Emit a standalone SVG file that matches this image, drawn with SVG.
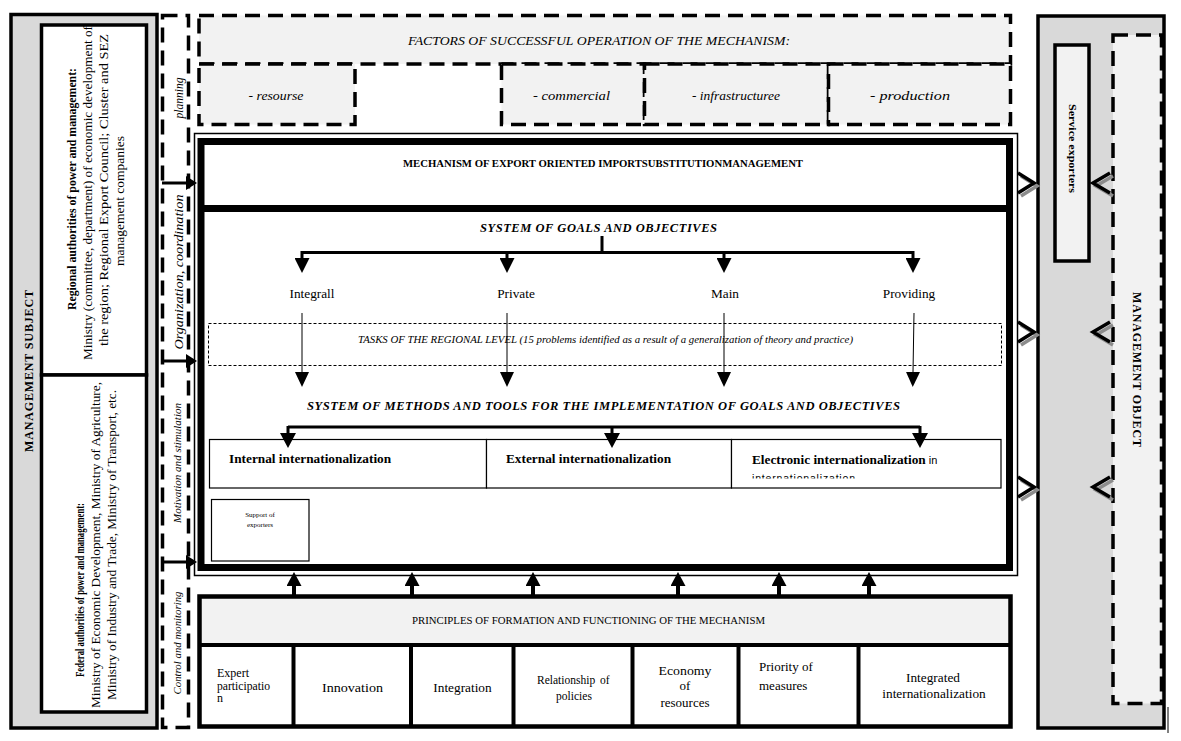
<svg xmlns="http://www.w3.org/2000/svg" width="1181" height="741" viewBox="0 0 1181 741">
<defs>
<style>
.serif{font-family:"Liberation Serif","Times New Roman",serif;fill:#000}
.sans{font-family:"Liberation Sans",Arial,sans-serif;fill:#000}
.b{font-weight:bold}
.i{font-style:italic}
.dash{stroke:#000;stroke-width:3.5;stroke-dasharray:15 8}
.thin{fill:#fff;stroke:#000;stroke-width:1.2}
.conn{fill:none;stroke:#000;stroke-width:3}
.conn4{fill:none;stroke:#000;stroke-width:4}
.conn1{fill:none;stroke:#000;stroke-width:1}
.chev{fill:none;stroke:#000;stroke-width:3.5}
.chevs{fill:none;stroke:#8c8c8c;stroke-width:3.5}
.div{stroke:#000;stroke-width:4}
</style>
<marker id="ah15" markerUnits="userSpaceOnUse" viewBox="0 0 15 15" markerWidth="15" markerHeight="15" refX="0" refY="7.5" orient="auto"><path d="M0,0L15,7.5L0,15z"/></marker>
<marker id="ah16" markerUnits="userSpaceOnUse" viewBox="0 0 15 16" markerWidth="15" markerHeight="16" refX="0" refY="8" orient="auto"><path d="M0,0L15,8L0,16z"/></marker>
<marker id="ah14" markerUnits="userSpaceOnUse" viewBox="0 0 15 14" markerWidth="15" markerHeight="14" refX="0" refY="7" orient="auto"><path d="M0,0L15,7L0,14z"/></marker>
<marker id="ahS" markerUnits="userSpaceOnUse" viewBox="0 0 11 14" markerWidth="11" markerHeight="14" refX="0" refY="7" orient="auto"><path d="M0,0L11,7L0,14z"/></marker>
<marker id="ahU" markerUnits="userSpaceOnUse" viewBox="0 0 14 15" markerWidth="14" markerHeight="15" refX="0" refY="7.5" orient="auto"><path d="M0,0L14,7.5L0,15z"/></marker>
<clipPath id="clipE"><rect x="733" y="440" width="267" height="38.5"/></clipPath>
</defs>

<rect width="1181" height="741" fill="#fff"/>

<g id="management-subject">
<rect x="11" y="14.5" width="146" height="713.5" fill="#d9d9d9" stroke="#000" stroke-width="3.5"/>
<text class="serif b" font-size="12" transform="translate(33,371) rotate(-90)" text-anchor="middle" textLength="162" lengthAdjust="spacing">MANAGEMENT SUBJECT</text>
</g>

<g id="regional-authorities">
<rect x="41.5" y="25" width="105" height="350" fill="#fff" stroke="#000" stroke-width="3.5"/>
<text class="serif b" font-size="12.5" transform="translate(76,189) rotate(-90)" text-anchor="middle" textLength="242" lengthAdjust="spacingAndGlyphs">Regional authorities of power and management:</text>
<text class="serif" font-size="12.5" transform="translate(92,193) rotate(-90)" text-anchor="middle" textLength="334" lengthAdjust="spacingAndGlyphs">Ministry (committee, department) of economic development of</text>
<text class="serif" font-size="12.5" transform="translate(108,190) rotate(-90)" text-anchor="middle" textLength="312" lengthAdjust="spacingAndGlyphs">the region; Regional Export Council; Cluster and SEZ</text>
<text class="serif" font-size="12.5" transform="translate(124,201) rotate(-90)" text-anchor="middle" textLength="130" lengthAdjust="spacingAndGlyphs">management companies</text>
</g>

<g id="federal-authorities">
<rect x="41.5" y="375" width="105" height="337" fill="#fff" stroke="#000" stroke-width="3.5"/>
<text class="serif b" font-size="12.5" transform="translate(84,590) rotate(-90)" text-anchor="middle" textLength="174" lengthAdjust="spacingAndGlyphs">Federal authorities of power and management:</text>
<text class="serif" font-size="12.5" transform="translate(100,545) rotate(-90)" text-anchor="middle" textLength="326" lengthAdjust="spacingAndGlyphs">Ministry of Economic Development, Ministry of Agriculture,</text>
<text class="serif" font-size="12.5" transform="translate(116,545) rotate(-90)" text-anchor="middle" textLength="310" lengthAdjust="spacingAndGlyphs">Ministry of Industry and Trade, Ministry of Transport, etc.</text>
</g>

<g id="management-functions">
<rect x="162.5" y="15.5" width="26" height="712" fill="#fff" class="dash"/>
<text class="serif i" font-size="11.5" transform="translate(183,98) rotate(-90)" text-anchor="middle">planning</text>
<text class="serif i" font-size="11.5" transform="translate(183,272) rotate(-90)" text-anchor="middle" textLength="155" lengthAdjust="spacingAndGlyphs">Organization, coordination</text>
<text class="serif i" font-size="9.5" transform="translate(181,463) rotate(-90)" text-anchor="middle" textLength="120" lengthAdjust="spacingAndGlyphs">Motivation and stimulation</text>
<text class="serif i" font-size="9.5" transform="translate(181,643) rotate(-90)" text-anchor="middle" textLength="103" lengthAdjust="spacingAndGlyphs">Control and monitoring</text>
</g>

<g id="factors">
<rect x="199" y="15.5" width="811.5" height="48.5" fill="#f2f2f2" class="dash"/>
<text class="serif i" font-size="12" x="599" y="45" text-anchor="middle" textLength="382" lengthAdjust="spacingAndGlyphs">FACTORS OF SUCCESSFUL OPERATION OF THE MECHANISM:</text>
</g>
<g id="factor-resource">
<rect x="199" y="64" width="156" height="60.5" fill="#f2f2f2" class="dash"/>
<text class="serif i" font-size="12" x="276" y="100" text-anchor="middle" textLength="55" lengthAdjust="spacingAndGlyphs">- resourse</text>
</g>
<g id="factor-commercial">
<rect x="501.5" y="64" width="143" height="60.5" fill="#f2f2f2" class="dash"/>
<text class="serif i" font-size="12" x="571.5" y="100" text-anchor="middle" textLength="77" lengthAdjust="spacingAndGlyphs">- commercial</text>
</g>
<g id="factor-infrastructure">
<rect x="644.5" y="64" width="184" height="60.5" fill="#f2f2f2" class="dash"/>
<text class="serif i" font-size="12" x="736" y="100" text-anchor="middle" textLength="88" lengthAdjust="spacingAndGlyphs">- infrastructuree</text>
</g>
<g id="factor-production">
<rect x="828.5" y="64" width="182" height="60.5" fill="#f2f2f2" class="dash"/>
<text class="serif i" font-size="12" x="910" y="100" text-anchor="middle" textLength="80" lengthAdjust="spacingAndGlyphs">- production</text>
</g>

<g id="mechanism">
<rect x="194.5" y="133.5" width="823" height="442" fill="#fff" stroke="#000" stroke-width="1.5"/>
<rect x="201" y="141.5" width="808.5" height="426" fill="none" stroke="#000" stroke-width="7"/>
<rect x="201" y="205" width="808.5" height="7" fill="#000"/>
<text class="serif b" font-size="10" x="603" y="167" text-anchor="middle" textLength="400" lengthAdjust="spacingAndGlyphs">MECHANISM OF EXPORT ORIENTED IMPORTSUBSTITUTIONMANAGEMENT</text>
</g>

<g id="goals">
<text class="serif b i" font-size="12.5" x="598.5" y="232" text-anchor="middle" textLength="237" lengthAdjust="spacing">SYSTEM OF GOALS AND OBJECTIVES</text>
</g>
<g id="goal-integral"><text class="serif" font-size="13.3" x="312" y="298" text-anchor="middle">Integrall</text></g>
<g id="goal-private"><text class="serif" font-size="13.3" x="516" y="298" text-anchor="middle">Private</text></g>
<g id="goal-main"><text class="serif" font-size="13.3" x="725" y="298" text-anchor="middle">Main</text></g>
<g id="goal-providing"><text class="serif" font-size="13.3" x="909" y="298" text-anchor="middle">Providing</text></g>

<g id="tasks">
<rect x="208.5" y="323.5" width="793" height="42" fill="none" stroke="#000" stroke-width="1" stroke-dasharray="3 2"/>
<text class="serif i" font-size="9.5" x="605.5" y="343" text-anchor="middle" textLength="495" lengthAdjust="spacingAndGlyphs">TASKS OF THE REGIONAL LEVEL (15 problems identified as a result of a generalization of theory and practice)</text>
</g>

<g id="methods">
<text class="serif b i" font-size="12.5" x="603.5" y="410" text-anchor="middle" textLength="593" lengthAdjust="spacing">SYSTEM OF METHODS AND TOOLS FOR THE IMPLEMENTATION OF GOALS AND OBJECTIVES</text>
</g>
<g id="method-internal">
<rect x="209.5" y="439.5" width="277" height="48.5" class="thin"/>
<text class="serif b" font-size="13.3" x="229" y="463">Internal internationalization</text>
</g>
<g id="method-external">
<rect x="486.5" y="439.5" width="245" height="48.5" class="thin"/>
<text class="serif b" font-size="13.3" x="506" y="463">External internationalization</text>
</g>
<g id="method-electronic">
<rect x="731.5" y="439.5" width="269.5" height="48.5" class="thin"/>
<text class="serif b" font-size="13.3" x="752" y="464">Electronic internationalization<tspan class="sans" font-weight="normal" font-size="11"> in</tspan></text>
<text class="sans" font-size="10.5" x="752" y="482" clip-path="url(#clipE)" textLength="103" lengthAdjust="spacing">internationalization</text>
</g>
<g id="support-exporters">
<rect x="211.5" y="499.5" width="97.5" height="61.5" class="thin"/>
<text class="serif" font-size="7" x="260" y="517" text-anchor="middle">Support of</text>
<text class="serif" font-size="7" x="260" y="527" text-anchor="middle">exporters</text>
</g>

<g id="principles">
<rect x="199.5" y="598" width="811" height="47" fill="#f2f2f2"/>
<rect x="199.5" y="596.5" width="811" height="130" fill="none" stroke="#000" stroke-width="4.5"/>
<line x1="199.5" y1="645" x2="1010.5" y2="645" class="div"/>
<line x1="293.5" y1="645" x2="293.5" y2="726.5" class="div"/>
<line x1="411" y1="645" x2="411" y2="726.5" class="div"/>
<line x1="513.5" y1="645" x2="513.5" y2="726.5" class="div"/>
<line x1="632.5" y1="645" x2="632.5" y2="726.5" class="div"/>
<line x1="738.5" y1="645" x2="738.5" y2="726.5" class="div"/>
<line x1="858.5" y1="645" x2="858.5" y2="726.5" class="div"/>
<text class="serif" font-size="9.5" x="588.5" y="624" text-anchor="middle" textLength="353" lengthAdjust="spacingAndGlyphs">PRINCIPLES OF FORMATION AND FUNCTIONING OF THE MECHANISM</text>
</g>
<g id="principle-expert">
<text class="serif" font-size="12" x="217" y="677">Expert</text>
<text class="serif" font-size="12" x="217" y="690" textLength="53" lengthAdjust="spacingAndGlyphs">participatio</text>
<text class="serif" font-size="12" x="217" y="702">n</text>
</g>
<g id="principle-innovation"><text class="serif" font-size="13.3" x="352.5" y="692" text-anchor="middle" textLength="61" lengthAdjust="spacingAndGlyphs">Innovation</text></g>
<g id="principle-integration"><text class="serif" font-size="13.3" x="462.5" y="692" text-anchor="middle">Integration</text></g>
<g id="principle-relationship">
<text class="serif" font-size="11.5" y="684"><tspan x="537">Relationship</tspan><tspan x="600">of</tspan></text>
<text class="serif" font-size="11.5" x="574" y="700" text-anchor="middle">policies</text>
</g>
<g id="principle-economy">
<text class="serif" font-size="13" x="685" y="675" text-anchor="middle" textLength="53" lengthAdjust="spacingAndGlyphs">Economy</text>
<text class="serif" font-size="13" x="685" y="690" text-anchor="middle">of</text>
<text class="serif" font-size="13" x="685" y="707" text-anchor="middle">resources</text>
</g>
<g id="principle-priority">
<text class="serif" font-size="13" y="671"><tspan x="759">Priority</tspan><tspan x="802">of</tspan></text>
<text class="serif" font-size="13" x="759" y="690">measures</text>
</g>
<g id="principle-integrated">
<text class="serif" font-size="13.3" x="933" y="682" text-anchor="middle">Integrated</text>
<text class="serif" font-size="13.3" x="934" y="698" text-anchor="middle">internationalization</text>
</g>

<g id="management-object">
<rect x="1038" y="16" width="126" height="712" fill="#d9d9d9" stroke="#000" stroke-width="3.5"/>
<rect x="1113" y="35" width="48.5" height="668.5" fill="#f2f2f2" class="dash"/>
<text class="serif b" font-size="12" transform="translate(1133,369.5) rotate(90)" text-anchor="middle" textLength="155" lengthAdjust="spacing">MANAGEMENT OBJECT</text>
<line x1="1168" y1="707" x2="1168" y2="733" stroke="#000" stroke-width="1"/>
</g>
<g id="service-exporters">
<rect x="1055" y="45" width="34" height="216" fill="#f2f2f2" stroke="#000" stroke-width="3.5"/>
<text class="serif b" font-size="11" transform="translate(1069,148.5) rotate(90)" text-anchor="middle" textLength="89" lengthAdjust="spacingAndGlyphs">Service exporters</text>
</g>

<g id="connectors">
<path class="conn" d="M162,183H186" marker-end="url(#ahS)"/>
<path class="conn" d="M162,361H186" marker-end="url(#ahS)"/>
<path class="conn" d="M162,562H186" marker-end="url(#ahS)"/>

<path class="conn" d="M602,236V252.5M302,252.5H913"/>
<path class="conn" d="M302,251V258" marker-end="url(#ah15)"/>
<path class="conn" d="M507,251V258" marker-end="url(#ah15)"/>
<path class="conn" d="M724,251V258" marker-end="url(#ah15)"/>
<path class="conn" d="M913,251V258" marker-end="url(#ah15)"/>

<path class="conn1" d="M302,313V372" marker-end="url(#ah14)"/>
<path class="conn1" d="M507,313V372" marker-end="url(#ah14)"/>
<path class="conn1" d="M724,313V372" marker-end="url(#ah14)"/>
<path class="conn1" d="M914,313L913,372" marker-end="url(#ah14)"/>

<path class="conn" d="M288,427H920"/>
<path class="conn" d="M288,426V433" marker-end="url(#ah16)"/>
<path class="conn" d="M612,426V433" marker-end="url(#ah16)"/>
<path class="conn" d="M920,426V433" marker-end="url(#ah16)"/>

<path class="conn4" d="M294,596V586" marker-end="url(#ahU)"/>
<path class="conn4" d="M412,596V586" marker-end="url(#ahU)"/>
<path class="conn4" d="M533,596V586" marker-end="url(#ahU)"/>
<path class="conn4" d="M678,596V586" marker-end="url(#ahU)"/>
<path class="conn4" d="M779,596V586" marker-end="url(#ahU)"/>
<path class="conn4" d="M869,596V586" marker-end="url(#ahU)"/>

<path class="chevs" d="M1021,176L1037,186L1021,196M1021,325L1037,335L1021,345M1021,480L1037,490L1021,500"/>
<path class="chev" d="M1018,173L1034,183L1018,193M1018,322L1034,332L1018,342M1018,477L1034,487L1018,497"/>
<path class="chevs" d="M1113,176L1096,186L1113,196M1113,325L1096,335L1113,345M1113,480L1096,490L1113,500"/>
<path class="chev" d="M1110,173L1093,183L1110,193M1110,322L1093,332L1110,342M1110,477L1093,487L1110,497"/>
</g>
</svg>
